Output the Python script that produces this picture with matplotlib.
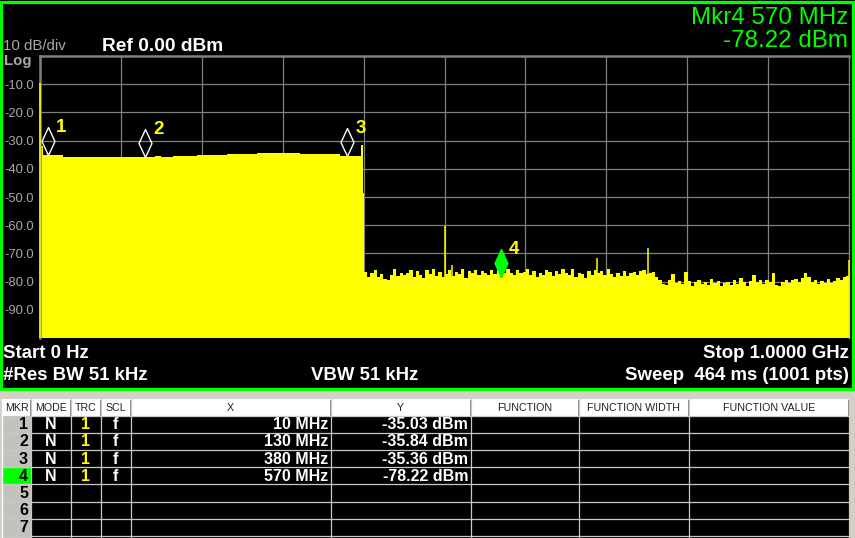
import numpy as np
import matplotlib
matplotlib.use('Agg')
import matplotlib.pyplot as plt
from matplotlib.path import Path
from matplotlib.patches import Rectangle

plt.rcParams['font.family'] = ['Liberation Sans', 'DejaVu Sans']

# ---------------- data ----------------
# occupied band (0..400 MHz), step-trace break points
band_freq_mhz = [0, 4, 29, 128, 142, 150, 165, 180, 194, 231, 268, 285, 300, 321, 371, 397, 399.5]
band_dbm = [-32.0, -35.2, -35.7, -35.8, -35.5, -35.7, -35.4, -35.6, -35.0, -34.7, -34.4,
            -34.3, -34.5, -34.8, -35.3, -31.6, -48.6]

# noise floor above the band, one value per 4 MHz bin starting at 400.5 MHz
noise_first_mhz = 400.5
noise_bin_mhz = 4
noise_dbm = [
    -76.5, -78.3, -77.0, -76.0, -78.5, -77.2, -79.0, -79.5, -77.8, -75.6, -78.0, -76.8, -77.5,
    -77.0, -75.8, -78.2, -76.4, -77.6, -78.8, -76.0, -77.3, -75.5, -77.9, -76.6, -78.4,
    -77.2, -75.9, -78.0, -76.5, -77.4, -75.6, -78.6, -76.2, -77.0, -75.9, -77.8, -76.4,
    -76.8, -77.5, -75.8, -77.2, -76.0, -78.2, -77.0, -75.5, -76.8, -77.6, -75.9, -77.1, -76.5,
    -75.5, -77.6, -76.2, -78.4, -76.9, -77.8, -75.8, -76.6, -78.0, -76.3, -77.2, -75.4, -76.8,
    -77.5, -75.6, -78.2, -76.9, -77.4, -78.6, -76.1, -77.7, -75.9, -77.0, -76.4, -77.8,
    -75.6, -77.3, -78.5, -76.8, -77.9, -76.2, -78.0, -77.1, -76.6, -77.8, -76.4, -75.9, -77.2,
    -77.0, -76.5, -78.3, -79.5, -80.8, -81.2, -79.4, -77.2, -80.5, -79.8, -81.0, -76.6,
    -79.8, -81.5, -80.2, -79.6, -80.9, -80.0, -81.3, -79.2, -80.6, -79.9, -81.6, -80.4, -80.0,
    -81.2, -79.5, -80.7, -78.9, -80.2, -81.4, -79.7, -77.8, -80.3, -79.6, -80.8, -79.4,
    -80.2, -77.0, -81.1, -81.4, -80.0, -79.3, -80.5, -79.6, -79.0, -80.3, -78.6, -77.0, -78.5,
    -80.3, -79.5, -80.8, -79.7, -80.4, -79.2, -80.6, -79.8, -78.8, -79.5, -78.2, -78.0,
]

# narrow spurs
spur_freq_mhz = [0.3, 500, 509, 689, 751, 1000]
spur_dbm = [-9.5, -60.3, -74.0, -71.6, -68.1, -72.3]

# markers
marker_ids = ['1', '2', '3', '4']
marker_freq_mhz = [10, 130, 380, 570]
marker_dbm = [-35.03, -35.84, -35.36, -78.22]
active_marker = 4

y_tick_values = [-10, -20, -30, -40, -50, -60, -70, -80, -90]
x_grid_mhz = [100, 200, 300, 400, 500, 600, 700, 800, 900]

table_columns = ['MKR', 'MODE', 'TRC', 'SCL', 'X', 'Y', 'FUNCTION', 'FUNCTION WIDTH', 'FUNCTION VALUE']
table_rows = ['1', '2', '3', '4', '5', '6', '7']
marker_mode = 'N'
marker_trace = '1'
marker_scale = 'f'

# ---------------- figure ----------------
W, H = 855, 538
fig = plt.figure(figsize=(W / 100, H / 100), dpi=100, facecolor='black')

ov = fig.add_axes([0, 0, 1, 1])
ov.set_xlim(0, W)
ov.set_ylim(H, 0)
ov.axis('off')

# plot area in pixels
PX0, PX1, PY0, PY1 = 40, 849, 56, 338
ax = fig.add_axes([PX0 / W, 1 - PY1 / H, (PX1 - PX0) / W, (PY1 - PY0) / H])
ax.set_facecolor('black')
ax.set_xlim(0, 1000)
ax.set_ylim(-100, 0)

noise_freq = noise_first_mhz + noise_bin_mhz * np.arange(len(noise_dbm))
freq = np.concatenate([band_freq_mhz, noise_freq, [1000]])
level = np.concatenate([band_dbm, noise_dbm, [noise_dbm[-1]]])
ax.fill_between(freq, level, -100, step='post', color='#ffff00', lw=0, zorder=2)
ax.vlines(spur_freq_mhz, -100, spur_dbm, color='#ffff00', lw=1.1, zorder=3, clip_on=False)

ax.set_yticks(y_tick_values)
ax.set_yticklabels([f'{v:.1f}' for v in y_tick_values])
ax.set_xticks(x_grid_mhz)
ax.set_xticklabels([])
ax.tick_params(axis='both', length=0)
ax.tick_params(axis='y', pad=4.5, labelcolor='#a8a8a8', labelsize=9.4)
ax.grid(True, color='#808080', lw=0.9)
ax.set_axisbelow(True)
for side in ['top', 'left']:
    ax.spines[side].set_color('#808080')
    ax.spines[side].set_linewidth(1.8)
ax.spines['right'].set_color('#808080')
ax.spines['right'].set_linewidth(1.0)
ax.spines['bottom'].set_visible(False)

# marker diamonds (bottom tip on the trace point)
diamond = Path([(0, 0), (-0.232, 0.5), (0, 1), (0.232, 0.5), (0, 0)],
               [Path.MOVETO, Path.LINETO, Path.LINETO, Path.LINETO, Path.CLOSEPOLY])
for mid, f, d in zip(marker_ids, marker_freq_mhz, marker_dbm):
    active = (mid == str(active_marker))
    ax.plot([f], [d], ls='none', marker=diamond, ms=40.3,
            mfc='#00ff00' if active else 'none',
            mec='#00ff00' if active else 'white', mew=1.0, zorder=5, clip_on=False)
    ax.annotate(mid, (f, d), xytext=(9.5, 19.5), textcoords='offset points',
                color='#ffff00', fontsize=13.5, fontweight='bold',
                ha='center', va='center', zorder=6)

# header texts
ai = marker_ids.index(str(active_marker))
ov.text(848, 24, f'Mkr{active_marker} {marker_freq_mhz[ai]:g} MHz', color='#00ff00',
        fontsize=17.4, ha='right', va='baseline')
ov.text(848, 47, f'{marker_dbm[ai]:.2f} dBm', color='#00ff00',
        fontsize=17.4, ha='right', va='baseline')
ov.text(3, 50, '10 dB/div', color='#a8a8a8', fontsize=10.8, va='baseline')
ov.text(4, 64.5, 'Log', color='#a8a8a8', fontsize=10.8, fontweight='bold', va='baseline')
ov.text(102, 51, 'Ref 0.00 dBm', color='white', fontsize=13.8, fontweight='bold', va='baseline')

# bottom annotations
bkw = dict(color='white', fontsize=13.4, fontweight='bold', va='baseline')
ov.text(3, 358.5, 'Start 0 Hz', ha='left', **bkw)
ov.text(849, 358.5, 'Stop 1.0000 GHz', ha='right', **bkw)
ov.text(3, 380.5, '#Res BW 51 kHz', ha='left', **bkw)
ov.text(365, 380.5, 'VBW 51 kHz', ha='center', **bkw)
ov.text(849, 380.5, 'Sweep  464 ms (1001 pts)', ha='right', **bkw)

# green frame
ov.add_patch(Rectangle((1.3, 1.5), 851.5, 387, fill=False, ec='#00ff00', lw=2.3, zorder=10))

# ---------------- marker table ----------------
edges = [2, 31, 70.5, 100.5, 130.5, 330.5, 470.5, 578.5, 688.5, 849]
TOP, HDR_H, ROW_H = 399, 16.5, 17.2
n_grid_rows = len(table_rows) + 1   # one more row partly visible at the bottom
ov.add_patch(Rectangle((0, 390), W, H - 390, fc='#d4d0c8', ec='none', zorder=1))
ov.add_patch(Rectangle((0, 390), W, 1.2, fc='#f4f4f4', ec='none', zorder=1))
ov.add_patch(Rectangle((edges[0], TOP), edges[-1] - edges[0], HDR_H, fc='white', ec='none', zorder=2))
body_top = TOP + HDR_H
ov.add_patch(Rectangle((edges[1], body_top), edges[-1] - edges[1], H - body_top,
                       fc='black', ec='none', zorder=2))
for i in range(n_grid_rows):
    y0 = body_top + i * ROW_H
    r = table_rows[i] if i < len(table_rows) else ''
    fc = '#00ff00' if r == str(active_marker) else '#c4c2bc'
    ov.add_patch(Rectangle((edges[0], y0), edges[1] - edges[0], ROW_H, fc=fc, ec='none', zorder=2))
    if r:
        ov.text(28, y0 + ROW_H / 2 + 0.5, r, color='black', fontsize=11.5, fontweight='bold',
                ha='right', va='center', zorder=4)
# grid lines
for i in range(n_grid_rows + 1):
    y = body_top + i * ROW_H
    ov.plot([edges[0], edges[-1]], [y, y], color='#c8c8c8', lw=0.9, zorder=3)
for x in edges[1:]:
    ov.plot([x, x], [TOP, H], color='#c8c8c8', lw=0.9, zorder=3)
    ov.plot([x - 1, x - 1], [TOP + 1, TOP + HDR_H - 1], color='#909090', lw=0.7, zorder=3)
ov.plot([edges[0], edges[0]], [TOP, H], color='#ffffff', lw=1.0, zorder=3)
for c, (a, b) in zip(table_columns, zip(edges[:-1], edges[1:])):
    ov.text((a + b) / 2, TOP + HDR_H / 2 + 0.5, c, color='#202020', fontsize=7.7,
            ha='center', va='center', zorder=4)

rkw = dict(fontsize=11.5, fontweight='bold', va='center', zorder=4)
for i, (f, d) in enumerate(zip(marker_freq_mhz, marker_dbm)):
    yc = body_top + i * ROW_H + ROW_H / 2 + 0.5
    ov.text((edges[1] + edges[2]) / 2, yc, marker_mode, color='white', ha='center', **rkw)
    ov.text((edges[2] + edges[3]) / 2, yc, marker_trace, color='#ffff00', ha='center', **rkw)
    ov.text((edges[3] + edges[4]) / 2, yc, marker_scale, color='white', ha='center', **rkw)
    ov.text(edges[5] - 2.5, yc, f'{f:g} MHz', color='white', ha='right', **rkw)
    ov.text(edges[6] - 2.5, yc, f'{d:.2f} dBm', color='white', ha='right', **rkw)

fig.savefig('out.png', dpi=100, facecolor='black')
